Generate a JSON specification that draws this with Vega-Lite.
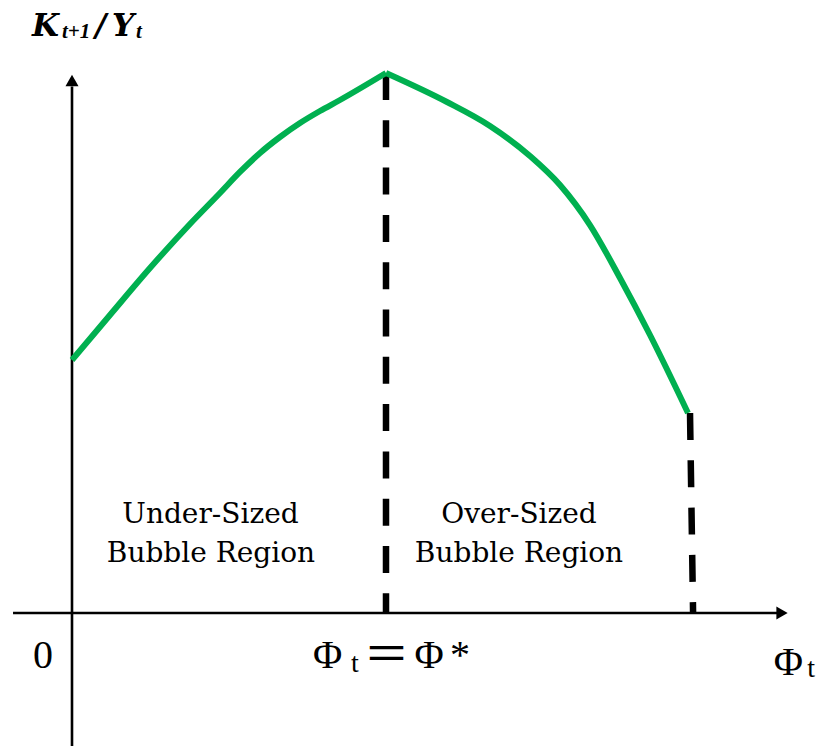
{
  "$schema": "https://vega.github.io/schema/vega-lite/v6.json",
  "width": 832,
  "height": 746,
  "autosize": {"type": "none"},
  "padding": 0,
  "background": "white",
  "config": {"view": {"stroke": null}},
  "datasets": {
    "curve": [
      {"phi": 0, "ky": 46.85, "side": "under"},
      {"phi": 6.05, "ky": 55.19, "side": "under"},
      {"phi": 12.42, "ky": 63.89, "side": "under"},
      {"phi": 18.79, "ky": 72.04, "side": "under"},
      {"phi": 23.57, "ky": 77.78, "side": "under"},
      {"phi": 26.75, "ky": 81.67, "side": "under"},
      {"phi": 29.94, "ky": 85.19, "side": "under"},
      {"phi": 33.12, "ky": 88.15, "side": "under"},
      {"phi": 36.31, "ky": 90.74, "side": "under"},
      {"phi": 39.49, "ky": 92.96, "side": "under"},
      {"phi": 42.68, "ky": 95.0, "side": "under"},
      {"phi": 50, "ky": 100, "side": "under"},
      {"phi": 50, "ky": 100, "side": "over"},
      {"phi": 59.71, "ky": 94.63, "side": "over"},
      {"phi": 66.56, "ky": 90.19, "side": "over"},
      {"phi": 72.93, "ky": 84.63, "side": "over"},
      {"phi": 77.71, "ky": 79.26, "side": "over"},
      {"phi": 82.48, "ky": 71.85, "side": "over"},
      {"phi": 87.26, "ky": 62.04, "side": "over"},
      {"phi": 92.04, "ky": 51.48, "side": "over"},
      {"phi": 98.09, "ky": 37.04, "side": "over"}
    ],
    "dashes": [
      {"x1": 50, "y1": 100, "x2": 50, "y2": 0},
      {"x1": 98.41, "y1": 37.04, "x2": 98.9, "y2": 0}
    ],
    "axes": [
      {"x1": -9.39, "y1": 0, "x2": 112.4, "y2": 0},
      {"x1": 0, "y1": -24.7, "x2": 0, "y2": 97.5}
    ],
    "xhead": [{"x": 113.06, "y": 0}],
    "yhead": [{"x": 0, "y": 98.61}],
    "ylab": [
      {"x": -6.37, "y": 106.85, "t": "K"},
      {"x": 3.66, "y": 106.85, "t": "/"},
      {"x": 6.37, "y": 106.85, "t": "Y"}
    ],
    "ylabsub": [
      {"x": -1.59, "y": 106.48, "t": "t+1"},
      {"x": 10.19, "y": 106.48, "t": "t"}
    ],
    "regions": [
      {"x": 22.05, "y": 16.67, "t": "Under-Sized"},
      {"x": 22.13, "y": 9.44, "t": "Bubble Region"},
      {"x": 71.18, "y": 16.67, "t": "Over-Sized"},
      {"x": 71.18, "y": 9.44, "t": "Bubble Region"}
    ],
    "math": [
      {"x": -4.62, "y": -10.19, "t": "0"},
      {"x": 40.69, "y": -10.19, "t": "Φ"},
      {"x": 56.85, "y": -10.19, "t": "Φ"},
      {"x": 61.78, "y": -10.19, "t": "*"},
      {"x": 114.09, "y": -11.48, "t": "Φ"}
    ],
    "mathsub": [
      {"x": 45.06, "y": -10.93, "t": "t"},
      {"x": 117.68, "y": -11.85, "t": "t"}
    ],
    "eq": [{"x": 50.08, "y": -10.6, "t": "＝"}]
  },
  "layer": [
    {
      "data": {"name": "axes"},
      "mark": {"type": "rule", "color": "black", "strokeWidth": 2.6},
      "encoding": {
        "x": {"field": "x1", "type": "quantitative", "scale": {"domain": [-11.465, 121.02], "nice": false, "zero": false}, "axis": null},
        "y": {"field": "y1", "type": "quantitative", "scale": {"domain": [-24.63, 113.52], "nice": false, "zero": false}, "axis": null},
        "x2": {"field": "x2"},
        "y2": {"field": "y2"}
      }
    },
    {
      "data": {"name": "xhead"},
      "mark": {"type": "point", "shape": "triangle-right", "filled": true, "color": "black", "size": 170, "opacity": 1},
      "encoding": {
        "x": {"field": "x", "type": "quantitative"},
        "y": {"field": "y", "type": "quantitative"}
      }
    },
    {
      "data": {"name": "yhead"},
      "mark": {"type": "point", "shape": "triangle-up", "filled": true, "color": "black", "size": 170, "opacity": 1},
      "encoding": {
        "x": {"field": "x", "type": "quantitative"},
        "y": {"field": "y", "type": "quantitative"}
      }
    },
    {
      "data": {"name": "dashes"},
      "mark": {"type": "rule", "color": "black", "strokeWidth": 6.5, "strokeDash": [27, 20.3]},
      "encoding": {
        "x": {"field": "x1", "type": "quantitative"},
        "y": {"field": "y1", "type": "quantitative"},
        "x2": {"field": "x2"},
        "y2": {"field": "y2"}
      }
    },
    {
      "data": {"name": "curve"},
      "mark": {"type": "line", "color": "#00B050", "strokeWidth": 6, "interpolate": "monotone", "strokeJoin": "miter"},
      "encoding": {
        "x": {"field": "phi", "type": "quantitative"},
        "y": {"field": "ky", "type": "quantitative"},
        "detail": {"field": "side"}
      }
    },
    {
      "data": {"name": "ylab"},
      "mark": {"type": "text", "font": "DejaVu Serif", "fontStyle": "italic", "fontWeight": "bold", "fontSize": 31, "align": "left", "baseline": "alphabetic", "color": "black"},
      "encoding": {
        "x": {"field": "x", "type": "quantitative"},
        "y": {"field": "y", "type": "quantitative"},
        "text": {"field": "t"}
      }
    },
    {
      "data": {"name": "ylabsub"},
      "mark": {"type": "text", "font": "Liberation Serif", "fontStyle": "italic", "fontWeight": "bold", "fontSize": 21, "align": "left", "baseline": "alphabetic", "color": "black"},
      "encoding": {
        "x": {"field": "x", "type": "quantitative"},
        "y": {"field": "y", "type": "quantitative"},
        "text": {"field": "t"}
      }
    },
    {
      "data": {"name": "regions"},
      "mark": {"type": "text", "font": "DejaVu Serif", "fontSize": 28, "align": "center", "baseline": "alphabetic", "color": "black"},
      "encoding": {
        "x": {"field": "x", "type": "quantitative"},
        "y": {"field": "y", "type": "quantitative"},
        "text": {"field": "t"}
      }
    },
    {
      "data": {"name": "math"},
      "mark": {"type": "text", "font": "Liberation Serif", "fontSize": 40, "align": "center", "baseline": "alphabetic", "color": "black"},
      "encoding": {
        "x": {"field": "x", "type": "quantitative"},
        "y": {"field": "y", "type": "quantitative"},
        "text": {"field": "t"}
      }
    },
    {
      "data": {"name": "mathsub"},
      "mark": {"type": "text", "font": "Liberation Serif", "fontSize": 28, "align": "center", "baseline": "alphabetic", "color": "black"},
      "encoding": {
        "x": {"field": "x", "type": "quantitative"},
        "y": {"field": "y", "type": "quantitative"},
        "text": {"field": "t"}
      }
    },
    {
      "data": {"name": "eq"},
      "mark": {"type": "text", "font": "Noto Sans CJK JP", "fontSize": 46, "align": "center", "baseline": "alphabetic", "color": "black"},
      "encoding": {
        "x": {"field": "x", "type": "quantitative"},
        "y": {"field": "y", "type": "quantitative"},
        "text": {"field": "t"}
      }
    }
  ]
}
